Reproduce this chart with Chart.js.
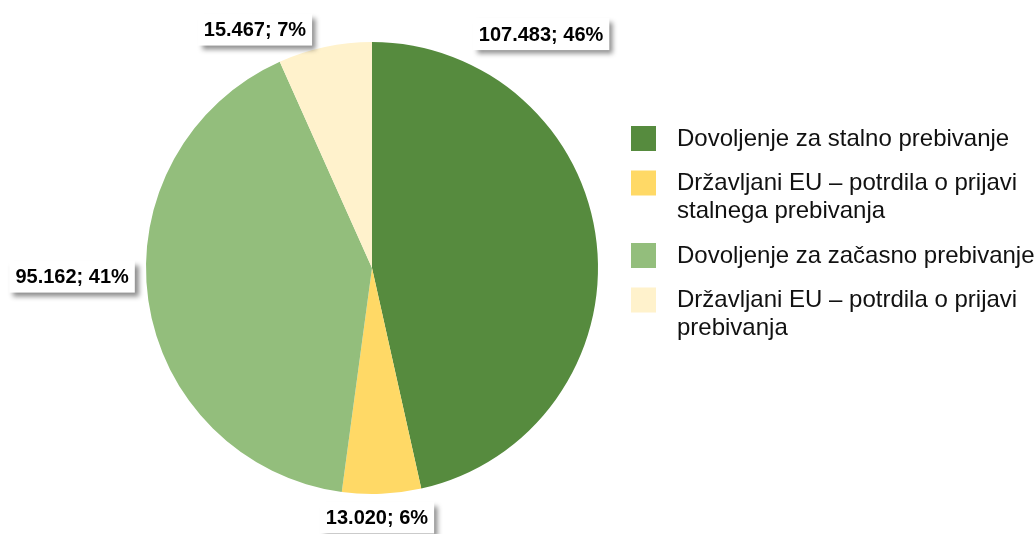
<!DOCTYPE html>
<html>
<head>
<meta charset="utf-8">
<style>
  html, body { margin: 0; padding: 0; background: #fff; }
  #wrap { width: 1036px; height: 534px; position: relative; }
</style>
<script src="https://cdn.jsdelivr.net/npm/chart.js@4.4.1/dist/chart.umd.min.js"></script>
</head>
<body>
<div id="wrap"><canvas id="pie"></canvas></div>
<script>
// categories (wrapped as in the original legend)
const categories = [
    ['Dovoljenje za stalno prebivanje'],
    ['Državljani EU – potrdila o prijavi', 'stalnega prebivanja'],
    ['Dovoljenje za začasno prebivanje'],
    ['Državljani EU – potrdila o prijavi', 'prebivanja']
];
const values = [107483, 13020, 95162, 15467];
const colors = ['#568B3E', '#FFD966', '#93BE7C', '#FFF2CC'];

// where each data label sits, relative to the pie centre, in radii
const labelSpots = [[0.748, -1.035], [0.022, 1.104], [-1.327, 0.038], [-0.518, -1.055]];

const total = values.reduce((a, b) => a + b, 0);
const fmt = v => String(v).replace(/\B(?=(\d{3})+(?!\d))/g, '.');

// whole percentages that add up to 100 (largest remainder)
function percents(vals) {
    const raw = vals.map(v => v / total * 100);
    const out = raw.map(Math.floor);
    let left = 100 - out.reduce((a, b) => a + b, 0);
    raw.map((p, i) => [p - Math.floor(p), i])
        .sort((a, b) => b[0] - a[0])
        .forEach(([, i]) => { if (left > 0) { out[i]++; left--; } });
    return out;
}
const pcts = percents(values);

const boxLabels = {
    id: 'boxLabels',
    afterDatasetsDraw(chart) {
        const ctx = chart.ctx;
        const arc = chart.getDatasetMeta(0).data[0];
        const cx = arc.x, cy = arc.y, r = arc.outerRadius;
        ctx.save();
        ctx.font = 'bold 20px "Liberation Sans", Arial, sans-serif';
        ctx.textAlign = 'center';
        ctx.textBaseline = 'middle';
        values.forEach((v, i) => {
            const txt = fmt(v) + '; ' + pcts[i] + '%';
            const x = cx + labelSpots[i][0] * r;
            const y = cy + labelSpots[i][1] * r;
            const w = ctx.measureText(txt).width + 12;
            const h = 32;
            ctx.save();
            ctx.shadowColor = 'rgba(0,0,0,0.45)';
            ctx.shadowBlur = 5;
            ctx.shadowOffsetX = 4;
            ctx.shadowOffsetY = 4;
            ctx.fillStyle = '#fff';
            ctx.fillRect(x - w / 2, y - h / 2, w, h);
            ctx.restore();
            ctx.fillStyle = '#000';
            ctx.fillText(txt, x, y + 1);
        });
        ctx.restore();
    }
};

const sideLegend = {
    id: 'sideLegend',
    afterDraw(chart) {
        const ctx = chart.ctx;
        const x0 = 631, tx = 677, lineH = 28, gap = 16.5;
        let y = 138;
        ctx.save();
        ctx.font = '24px "Liberation Sans", Arial, sans-serif';
        ctx.textBaseline = 'middle';
        categories.forEach((lines, i) => {
            ctx.fillStyle = colors[i];
            ctx.fillRect(x0, y - 12, 25, 25);
            ctx.fillStyle = '#111';
            lines.forEach((ln, j) => ctx.fillText(ln, tx, y + j * lineH + 1));
            y += lines.length * lineH + gap;
        });
        ctx.restore();
    }
};

new Chart(document.getElementById('pie'), {
    type: 'pie',
    data: {
        labels: categories.map(c => c.join(' ')),
        datasets: [{
            data: values,
            backgroundColor: colors,
            borderWidth: 0
        }]
    },
    options: {
        responsive: true,
        maintainAspectRatio: false,
        animation: false,
        layout: { padding: { left: 146, right: 438, top: 42, bottom: 40 } },
        plugins: {
            legend: { display: false },
            tooltip: { enabled: false }
        }
    },
    plugins: [boxLabels, sideLegend]
});
</script>
</body>
</html>
